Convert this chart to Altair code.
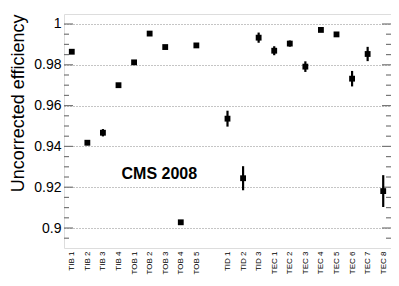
import altair as alt
import pandas as pd

# Axis slot order (blank slot separates TOB and TID)
slots = ["TIB 1", "TIB 2", "TIB 3", "TIB 4", "TOB 1", "TOB 2", "TOB 3", "TOB 4", "TOB 5", " ",
         "TID 1", "TID 2", "TID 3", "TEC 1", "TEC 2", "TEC 3", "TEC 4", "TEC 5", "TEC 6", "TEC 7", "TEC 8"]

layers = ["TIB 1", "TIB 2", "TIB 3", "TIB 4", "TOB 1", "TOB 2", "TOB 3", "TOB 4", "TOB 5",
          "TID 1", "TID 2", "TID 3", "TEC 1", "TEC 2", "TEC 3", "TEC 4", "TEC 5", "TEC 6", "TEC 7", "TEC 8"]
efficiency = [0.9864, 0.9418, 0.9467, 0.9700, 0.9812, 0.9953, 0.9887, 0.9028, 0.9895,
              0.9536, 0.9244, 0.9933, 0.9869, 0.9904, 0.9791, 0.9971, 0.9949, 0.9732, 0.9853, 0.9181]
errors = [0.0005, 0.0012, 0.0018, 0.0010, 0.0005, 0.0004, 0.0005, 0.0010, 0.0005,
          0.0039, 0.0059, 0.0025, 0.0022, 0.0015, 0.0026, 0.0005, 0.0010, 0.0038, 0.0035, 0.0078]

y_major = [0.90, 0.92, 0.94, 0.96, 0.98, 1.00]
y_minor = [0.895, 0.905, 0.91, 0.915, 0.925, 0.93, 0.935, 0.945, 0.95, 0.955,
           0.965, 0.97, 0.975, 0.985, 0.99, 0.995]
y_domain = [0.8902, 1.0049]

df = pd.DataFrame({"layer": layers, "eff": efficiency, "err": errors})
df["lo"] = df["eff"] - df["err"]
df["hi"] = df["eff"] + df["err"]

W, H = 327, 234
FONT = "Liberation Sans"
TICK = "#777777"

xscale = alt.Scale(domain=slots, type="point", padding=0.5)
xenc = alt.X("layer:N", scale=xscale,
             axis=alt.Axis(title=None, labelAngle=270, labelFontSize=8, labelPadding=3,
                           ticks=False, domain=False, labelColor="black", labelFont=FONT,
                           labelAlign="right", labelBaseline="middle"))
yscale = alt.Scale(domain=y_domain, nice=False, zero=False)
yenc = alt.Y("eff:Q", scale=yscale,
             axis=alt.Axis(title="Uncorrected efficiency", values=y_major,
                           labelExpr="datum.value == 1 ? '1' : format(datum.value, '.2~f')",
                           labelFontSize=14, labelFont=FONT, labelColor="black",
                           labelPadding=3, ticks=False, domain=False,
                           grid=True, gridDash=[1, 2], gridColor="#8a8a8a", gridWidth=1,
                           titleFontSize=18, titleFont=FONT, titleFontWeight="normal",
                           titleColor="black", titleAnchor="end", titlePadding=6))

base = alt.Chart(df)
points = base.mark_point(shape="square", filled=True, size=34, color="black", opacity=1).encode(x=xenc, y=yenc)
bars = base.mark_rule(color="black", strokeWidth=2.2).encode(
    x=alt.X("layer:N", scale=xscale),
    y=alt.Y("lo:Q", scale=yscale), y2="hi:Q")

# inward ticks on the left and right frame edges
lmaj = alt.Chart(pd.DataFrame({"v": y_major})).mark_rule(color=TICK, strokeWidth=1.2).encode(
    y=alt.Y("v:Q", scale=yscale), x=alt.value(0), x2=alt.value(9))
lmin = alt.Chart(pd.DataFrame({"v": y_minor})).mark_rule(color=TICK, strokeWidth=1.2).encode(
    y=alt.Y("v:Q", scale=yscale), x=alt.value(0), x2=alt.value(5))
rmaj = alt.Chart(pd.DataFrame({"v": y_major})).mark_rule(color=TICK, strokeWidth=1.2).encode(
    y=alt.Y("v:Q", scale=yscale), x=alt.value(W - 9), x2=alt.value(W))
rmin = alt.Chart(pd.DataFrame({"v": y_minor})).mark_rule(color=TICK, strokeWidth=1.2).encode(
    y=alt.Y("v:Q", scale=yscale), x=alt.value(W - 5), x2=alt.value(W))

label = alt.Chart(pd.DataFrame({"layer": ["TIB 4"], "v": [0.9265], "t": ["CMS 2008"]})).mark_text(
    fontSize=16, fontWeight="bold", font=FONT, align="left", baseline="middle", dx=3, color="black"
).encode(x=alt.X("layer:N", scale=xscale),
         y=alt.Y("v:Q", scale=yscale), text="t:N")

chart = alt.layer(lmaj, lmin, rmaj, rmin, bars, points, label).properties(
    width=W, height=H,
    autosize=alt.AutoSizeParams(type="none"),
    padding={"left": 56, "top": 6, "right": 0, "bottom": 30},
).configure_view(stroke="#8c8c8c", strokeWidth=2).configure(background="white")

chart.save("out.html", embed_options={"renderer": "svg", "actions": False})
